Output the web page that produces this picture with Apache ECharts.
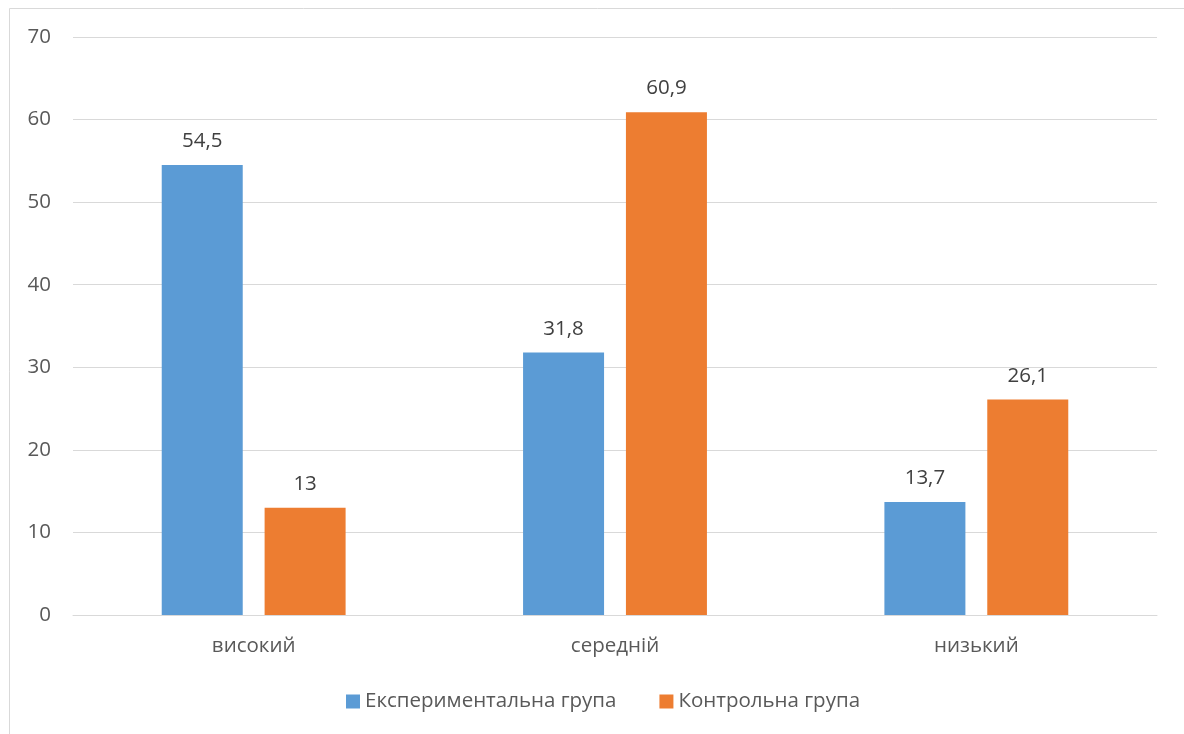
<!DOCTYPE html>
<html>
<head>
<meta charset="utf-8">
<style>
  html, body { margin: 0; padding: 0; background: #ffffff; }
  #chart { width: 1184px; height: 734px; }
</style>
<script src="https://cdn.jsdelivr.net/npm/echarts@6/dist/echarts.min.js"></script>
</head>
<body>
<div id="chart"></div>
<script>
const categories = ['високий', 'середній', 'низький'];
const seriesNames = ['Експериментальна група', 'Контрольна група'];
const experimental = [54.5, 31.8, 13.7];
const control = [13, 60.9, 26.1];
const yTicks = { min: 0, max: 70, interval: 10 };

const FONT = '"Open Sans", "Noto Sans", sans-serif';
const FS = 20.5;
const fmt = p => String(p.value).replace('.', ',');

const chart = echarts.init(document.getElementById('chart'), null, { renderer: 'canvas' });
chart.setOption({
  backgroundColor: '#ffffff',
  animation: false,
  textStyle: { fontFamily: FONT },
  graphic: [{
    type: 'rect',
    shape: { x: 9.5, y: 8.5, width: 1200, height: 760 },
    style: { fill: 'none', stroke: '#d9d9d9', lineWidth: 1 },
    silent: true
  }],
  grid: { left: 73, right: 27, top: 37, bottom: 119 },
  legend: {
    bottom: 22,
    left: 346,
    padding: 0,
    itemWidth: 14,
    itemHeight: 14,
    itemGap: 43,
    icon: 'rect',
    textStyle: { fontSize: FS, color: '#595959', fontFamily: FONT },
    data: seriesNames
  },
  xAxis: {
    type: 'category',
    data: categories,
    axisLine: { lineStyle: { color: '#d9d9d9', width: 1 } },
    axisTick: { show: false },
    axisLabel: { fontSize: FS, color: '#595959', margin: 21, fontFamily: FONT }
  },
  yAxis: {
    type: 'value',
    min: yTicks.min,
    max: yTicks.max,
    interval: yTicks.interval,
    axisLine: { show: false },
    axisTick: { show: false },
    splitLine: { lineStyle: { color: '#d9d9d9', width: 1 } },
    axisLabel: { fontSize: FS, color: '#595959', margin: 22, fontFamily: FONT }
  },
  series: [
    {
      name: seriesNames[0],
      type: 'bar',
      data: experimental,
      barWidth: 81,
      barGap: '27%',
      itemStyle: { color: '#5b9bd5' },
      label: { show: true, position: 'top', distance: 13, fontSize: FS, color: '#404040', formatter: fmt, fontFamily: FONT }
    },
    {
      name: seriesNames[1],
      type: 'bar',
      data: control,
      barWidth: 81,
      itemStyle: { color: '#ed7d31' },
      label: { show: true, position: 'top', distance: 13, fontSize: FS, color: '#404040', formatter: fmt, fontFamily: FONT }
    }
  ]
});
</script>
</body>
</html>
